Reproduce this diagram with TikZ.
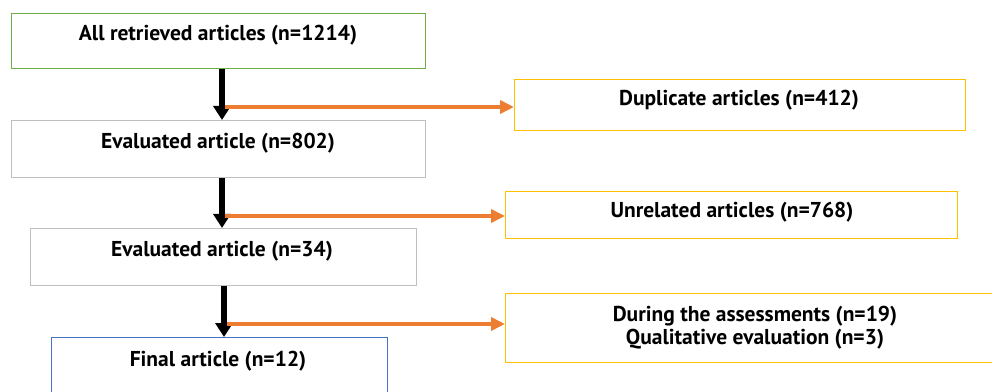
\documentclass[tikz,border=0pt]{standalone}
\usepackage{fontspec}
\setmainfont{PT Sans}
\usetikzlibrary{arrows.meta}
\definecolor{cgreen}{HTML}{70AD47}
\definecolor{cgray}{HTML}{BFBFBF}
\definecolor{cyellow}{HTML}{FFC000}
\definecolor{cblue}{HTML}{4472C4}
\definecolor{corange}{HTML}{ED7D31}
\begin{document}
\begin{tikzpicture}[x=1pt,y=1pt,
  box/.style={draw, line width=1pt, inner sep=0pt, anchor=north west},
  lbl/.style={font=\fontsize{21.5}{23}\selectfont\bfseries, anchor=base, align=center, inner sep=0pt},
  blk/.style={line width=5.5pt, -{Triangle[length=14pt,width=17pt]}},
  org/.style={draw=corange, line width=3.6pt, -{Triangle[length=14pt,width=13pt]}}]
\clip (0,0) rectangle (992,391);
\fill[white] (0,0) rectangle (992,391);
\node[box, draw=cgreen, minimum width=414pt, minimum height=55pt] (b1) at (11,378) {};
\node[box, draw=cyellow, minimum width=451pt, minimum height=51pt] (b2) at (514,312) {};
\node[box, draw=cgray, minimum width=414pt, minimum height=57pt] (b3) at (11,271) {};
\node[box, draw=cyellow, minimum width=452pt, minimum height=47pt] (b4) at (505,200) {};
\node[box, draw=cgray, minimum width=386pt, minimum height=57pt] (b5) at (30,163) {};
\node[box, draw=cyellow, minimum width=500pt, minimum height=69pt] (b6) at (505,98) {};
\node[box, draw=cblue, minimum width=336pt, minimum height=60pt] (b7) at (51,54) {};
\node[lbl] (t1) at (218,350) {All retrieved articles (n=1214)};
\node[lbl] (t2) at (739,285) {Duplicate articles (n=412)};
\node[lbl] (t3) at (218,242) {Evaluated article (n=802)};
\node[lbl] (t4) at (732,173) {Unrelated articles (n=768)};
\node[lbl] (t5) at (222,135) {Evaluated article (n=34)};
\node[lbl] (t6) at (755,47) {During the assessments (n=19)\\Qualitative evaluation (n=3)};
\node[lbl] (t7) at (218,25) {Final article (n=12)};
\coordinate (c1) at (222,0);
\coordinate (c2) at (222,0);
\coordinate (c3) at (224,0);
\draw[blk] (b1.south -| c1) -- (b3.north -| c1);
\draw[blk] (b3.south -| c2) -- (b5.north -| c2);
\draw[blk] (b5.south -| c3) -- (b7.north -| c3);
\coordinate (o1) at (225,284);
\coordinate (o2) at (225,175);
\coordinate (o3) at (227,67);
\draw[org] (o1) -- (o1 -| b2.west);
\draw[org] (o2) -- (o2 -| b4.west);
\draw[org] (o3) -- (o3 -| b6.west);
\end{tikzpicture}
\end{document}
